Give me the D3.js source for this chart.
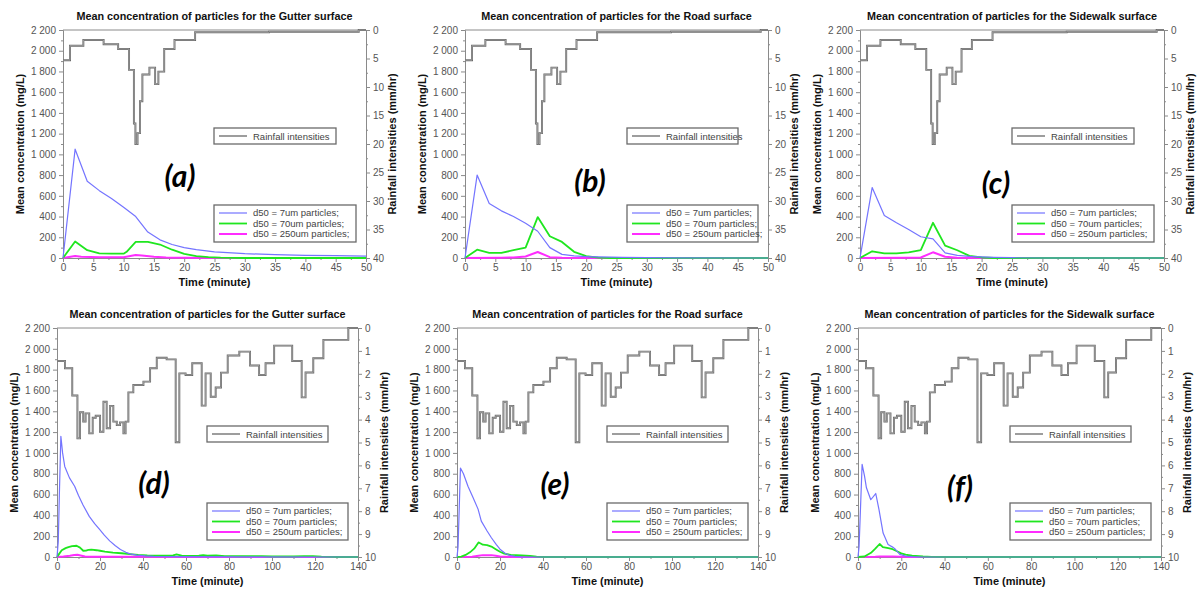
<!DOCTYPE html>
<html>
<head>
<meta charset="utf-8">
<script src="https://cdn.jsdelivr.net/npm/d3@7"></script>
<style>
  body { margin: 0; background: #fff; }
  svg { font-family: "Liberation Sans", Arial, sans-serif; }
</style>
</head>
<body>
<svg id="chart" width="1198" height="590"></svg>
<script>
// Beschriftungen
const surfaces = ["Gutter", "Road", "Sidewalk", "Gutter", "Road", "Sidewalk"];
const panelLetters = ["(a)", "(b)", "(c)", "(d)", "(e)", "(f)"];
const seriesLabels = ["d50 = 7um particles;", "d50 = 70um particles;", "d50 = 250um particles;"];
const rainLabel = "Rainfall intensities";

// Ticks
const concTicks = [0, 200, 400, 600, 800, 1000, 1200, 1400, 1600, 1800, 2000, 2200];
const timeTicksTop = [0, 5, 10, 15, 20, 25, 30, 35, 40, 45, 50];
const timeTicksBottom = [0, 20, 40, 60, 80, 100, 120, 140];
const rainTicksTop = [0, 5, 10, 15, 20, 25, 30, 35, 40];
const rainTicksBottom = [0, 1, 2, 3, 4, 5, 6, 7, 8, 9, 10];

// Regen (Startzeit, Intensität mm/hr) - Stufen
const rainTop = [[0,5.3],[1.16,2.75],[3.36,1.75],[6.7,2.5],[9.1,3.33],[10.9,7.0],[11.7,16.4],[11.95,20],[12.3,18.1],[12.7,12.5],[13.1,7.8],[14.26,6.6],[15.2,9.5],[15.74,7.3],[16.7,3.33],[18.4,1.75],[21.8,0.4],[34,0.3],[48.8,0],[50,0]];
const rainBottom = [[0,1.44],[3.7,1.76],[7.1,2.95],[9.5,4.82],[10.7,3.68],[12.2,4.09],[13.3,3.73],[15.0,4.6],[16.6,3.92],[18.0,3.83],[20.0,4.53],[21.6,3.22],[23.1,4.38],[24.7,3.4],[26.2,4.09],[27.8,4.24],[29.3,4.12],[30.9,4.6],[31.9,4.09],[33.2,2.81],[35.5,2.49],[40.2,2.34],[43.3,1.76],[46.4,1.3],[51.0,1.37],[55.2,4.99],[56.9,1.98],[59.8,2.05],[62.9,1.54],[67.3,3.39],[69.1,1.98],[71.5,3.0],[73.8,2.6],[76.3,1.95],[79.4,1.2],[84.8,1.03],[89.8,1.64],[94,2.05],[97,1.54],[101,0.77],[109.4,1.44],[113.8,3.03],[115.6,1.94],[119.2,1.32],[123.9,0.52],[135.5,0],[140,0]];

// Konzentrationen (Zeit, mg/L)
const a7 = [[0,0],[2,1050],[4,740],[6,650],[8,575],[10,490],[12,400],[14,250],[16,175],[18,130],[20,100],[22,80],[25,60],[30,42],[35,32],[40,26],[45,22],[50,18]];
const a70 = [[0,0],[2,160],[4,75],[6,45],[8,42],[10,42],[10.5,60],[12,155],[14,155],[16,130],[18,80],[20,40],[22,18],[24,8],[26,3],[30,0],[50,0]];
const a250 = [[0,0],[2,20],[3,12],[6,8],[10,8],[12,28],[13,25],[15,12],[17,5],[20,2],[25,0],[50,0]];

const b7 = [[0,0],[2,800],[4,525],[6,455],[8,400],[10,335],[12,258],[14,100],[16,35],[18,20],[20,14],[22,10],[26,6],[30,4],[35,2],[50,0]];
const b70 = [[0,0],[2,80],[4,50],[6,50],[8,75],[10,100],[12,395],[14,210],[16,155],[18,60],[20,18],[22,3],[24,0],[50,0]];
const b250 = [[0,0],[6,2],[8,5],[10,15],[12,58],[14,8],[16,2],[20,0],[50,0]];

const c7 = [[0,0],[2,680],[4,410],[6,340],[8,275],[10,205],[12,185],[14,50],[16,25],[18,15],[20,10],[22,6],[25,3],[30,0],[50,0]];
const c70 = [[0,0],[2,65],[4,45],[6,45],[8,55],[10,75],[12,340],[14,120],[16,75],[18,20],[20,5],[22,0],[50,0]];
const c250 = [[0,0],[8,2],[10,5],[12,55],[14,12],[16,3],[20,0],[50,0]];

const d7 = [[0,0],[0.6,150],[1.1,600],[1.8,1160],[2.6,1000],[3.6,870],[5.8,760],[8.2,680],[10,590],[12.1,500],[15,390],[17.5,320],[19.8,265],[22,210],[24.5,155],[27,110],[29.5,72],[32,45],[34,30],[37,18],[41,10],[45,6],[55,3],[140,0]];
const d70 = [[0,0],[1,30],[2.2,65],[4,85],[5.3,95],[7,105],[9.1,108],[10.7,90],[12.2,60],[13.5,62],[14.6,68],[16,70],[18.4,65],[20,60],[22.3,52],[26,42],[30,36],[34,28],[37.8,20],[42,15],[45.6,13],[50,12],[54,15],[55.6,25],[58,13],[62,10],[66,12],[68,18],[70,12],[74,16],[78,9],[85,7],[95,9],[100,5],[110,5],[115,9],[119,8],[123,3],[130,0],[140,0]];
const d250 = [[0,0],[3,5],[6,12],[8,20],[9.5,22],[11,15],[13,5],[16,3],[20,2],[40,2],[140,0]];

const e7 = [[0,0],[0.5,100],[1.6,855],[3,800],[5.1,680],[7.5,570],[9.8,460],[11.3,345],[14,250],[16,185],[18.3,118],[20,75],[22.2,38],[24.5,15],[27,6],[30,2],[40,0],[140,0]];
const e70 = [[0,0],[2,3],[4,20],[6,45],[8,80],[10,140],[11,130],[12,118],[14,115],[16,100],[18,75],[20,50],[22,32],[25,20],[30,15],[34,10],[37,3],[40,0],[140,0]];
const e250 = [[0,0],[7,3],[10,12],[12,18],[16,18],[18,12],[20,5],[23,2],[26,0],[140,0]];

const f7 = [[0,0],[0.5,100],[1.9,890],[3,780],[3.9,665],[5.9,550],[8.2,610],[9.7,455],[11.6,230],[13.9,120],[16,95],[17,80],[19.3,25],[22,8],[25,3],[30,0],[140,0]];
const f70 = [[0,0],[3,5],[6,40],[8,80],[10,125],[11.5,95],[14,85],[16,75],[18,55],[20,35],[22,22],[25,12],[30,5],[34,2],[40,0],[140,0]];
const f250 = [[0,0],[8,3],[10,6],[16,6],[20,2],[24,0],[140,0]];

// Farben
const seriesColors = ["#7474ff", "#1fe61f", "#ff2cff"];
const seriesWidths = [1.2, 1.8, 2];

// Panels (Layout)
const panels = [
  { series: [a7, a70, a250], rain: rainTop, tmax: 50, rmax: 40, tT: timeTicksTop, rT: rainTicksTop, tMinor: 2.5, rMinor: 2.5,
    left: 63, right: 366, top: 30, bottom: 258, rainW: 122, partW: 142, letter: [180, 187] },
  { series: [b7, b70, b250], rain: rainTop, tmax: 50, rmax: 40, tT: timeTicksTop, rT: rainTicksTop, tMinor: 2.5, rMinor: 2.5,
    left: 465, right: 768, top: 30, bottom: 258, rainW: 111, partW: 131, letter: [590, 192] },
  { series: [c7, c70, c250], rain: rainTop, tmax: 50, rmax: 40, tT: timeTicksTop, rT: rainTicksTop, tMinor: 2.5, rMinor: 2.5,
    left: 860, right: 1164, top: 30, bottom: 258, rainW: 122, partW: 142, letter: [996, 194] },
  { series: [d7, d70, d250], rain: rainBottom, tmax: 140, rmax: 10, tT: timeTicksBottom, rT: rainTicksBottom, tMinor: 10, rMinor: 0.5,
    left: 57, right: 358, top: 328, bottom: 557, rainW: 121, partW: 141, letter: [154, 494] },
  { series: [e7, e70, e250], rain: rainBottom, tmax: 140, rmax: 10, tT: timeTicksBottom, rT: rainTicksBottom, tMinor: 10, rMinor: 0.5,
    left: 457, right: 758, top: 328, bottom: 557, rainW: 121, partW: 141, letter: [555, 495] },
  { series: [f7, f70, f250], rain: rainBottom, tmax: 140, rmax: 10, tT: timeTicksBottom, rT: rainTicksBottom, tMinor: 10, rMinor: 0.5,
    left: 858, right: 1161, top: 328, bottom: 557, rainW: 121, partW: 141, letter: [960, 498] }
];

const fmt = d3.formatLocale({ decimal: ".", thousands: "\u00a0", grouping: [3], currency: ["", ""] }).format(",d");
const svg = d3.select("#chart");

function minorTicks(step, max) {
  const out = [];
  for (let v = step; v < max; v += step * 2) out.push(v);
  return out;
}

function styleAxis(g) {
  g.select(".domain").attr("stroke", "#8a8a8a");
  g.selectAll(".tick line").attr("stroke", "#8a8a8a");
  g.selectAll(".tick text").attr("fill", "#555").style("font-size", "10px").style("font-family", "Liberation Sans, Arial, sans-serif");
}

function drawPanel(p, i) {
  const g = svg.append("g");
  const x = d3.scaleLinear().domain([0, p.tmax]).range([p.left, p.right]);
  const y = d3.scaleLinear().domain([0, 2200]).range([p.bottom, p.top]);
  const yR = d3.scaleLinear().domain([0, p.rmax]).range([p.top, p.bottom]);

  // Rahmen oben
  g.append("line").attr("x1", p.left).attr("x2", p.right).attr("y1", p.top).attr("y2", p.top).attr("stroke", "#8a8a8a");

  // Achsen
  const gl = g.append("g").attr("transform", `translate(${p.left},0)`)
    .call(d3.axisLeft(y).tickValues(concTicks).tickSize(4).tickPadding(3).tickFormat(fmt));
  styleAxis(gl);
  g.append("g").attr("transform", `translate(${p.left},0)`)
    .call(d3.axisLeft(y).tickValues(minorTicks(100, 2200)).tickSize(2).tickFormat(""))
    .call(s => { s.select(".domain").remove(); s.selectAll("line").attr("stroke", "#8a8a8a"); });

  const gr = g.append("g").attr("transform", `translate(${p.right},0)`)
    .call(d3.axisRight(yR).tickValues(p.rT).tickSize(4).tickPadding(3));
  styleAxis(gr);
  g.append("g").attr("transform", `translate(${p.right},0)`)
    .call(d3.axisRight(yR).tickValues(minorTicks(p.rMinor, p.rmax)).tickSize(2).tickFormat(""))
    .call(s => { s.select(".domain").remove(); s.selectAll("line").attr("stroke", "#8a8a8a"); });

  const gb = g.append("g").attr("transform", `translate(0,${p.bottom})`)
    .call(d3.axisBottom(x).tickValues(p.tT).tickSize(4).tickPadding(2));
  styleAxis(gb);
  g.append("g").attr("transform", `translate(0,${p.bottom})`)
    .call(d3.axisBottom(x).tickValues(minorTicks(p.tMinor, p.tmax)).tickSize(2).tickFormat(""))
    .call(s => { s.select(".domain").remove(); s.selectAll("line").attr("stroke", "#8a8a8a"); });

  // Regenlinie (Stufen)
  const rainLine = d3.line().x(d => x(d[0])).y(d => yR(d[1])).curve(d3.curveStepAfter);
  g.append("path").datum(p.rain).attr("d", rainLine).attr("fill", "none").attr("stroke", "#666").attr("stroke-width", 1.9);
  g.append("path").datum(p.rain).attr("d", rainLine).attr("fill", "none").attr("stroke", "#cfcfcf").attr("stroke-width", 0.5);

  // Konzentrationen
  const concLine = d3.line().x(d => x(d[0])).y(d => y(d[1]));
  [2, 1, 0].forEach(k => {
    g.append("path").datum(p.series[k]).attr("d", concLine)
      .attr("fill", "none").attr("stroke", seriesColors[k]).attr("stroke-width", seriesWidths[k])
      .attr("stroke-linejoin", "round");
  });

  // Titel
  g.append("text").attr("x", (p.left + p.right) / 2).attr("y", p.top - 10)
    .attr("text-anchor", "middle").style("font-size", "10.8px").style("font-weight", "bold").attr("fill", "#111")
    .text(`Mean concentration of particles for the ${surfaces[i]} surface`);

  // Achsentitel
  g.append("text").attr("x", (p.left + p.right) / 2).attr("y", p.bottom + 28)
    .attr("text-anchor", "middle").style("font-size", "11px").style("font-weight", "bold").attr("fill", "#111")
    .text("Time (minute)");
  const cy = (p.top + p.bottom) / 2;
  g.append("text").attr("transform", `translate(${p.left - 39},${cy}) rotate(-90)`)
    .attr("text-anchor", "middle").style("font-size", "11px").style("font-weight", "bold").attr("fill", "#111")
    .text("Mean concentration (mg/L)");
  g.append("text").attr("transform", `translate(${p.right + 30},${cy}) rotate(-90)`)
    .attr("text-anchor", "middle").style("font-size", "11px").style("font-weight", "bold").attr("fill", "#111")
    .text("Rainfall intensities (mm/hr)");

  // Legende Regen
  const rx = p.right - 30 - p.rainW, ry = p.top + 98;
  g.append("rect").attr("x", rx).attr("y", ry).attr("width", p.rainW).attr("height", 16)
    .attr("fill", "#fff").attr("stroke", "#6a6a6a").attr("stroke-width", 1.3);
  g.append("line").attr("x1", rx + 5).attr("x2", rx + 33).attr("y1", ry + 8).attr("y2", ry + 8)
    .attr("stroke", "#5c5c5c").attr("stroke-width", 1.2);
  g.append("text").attr("x", rx + 39).attr("y", ry + 11.5).style("font-size", "9.5px").attr("fill", "#444").text(rainLabel);

  // Legende Partikel
  const lx = p.right - 10 - p.partW, ly = p.top + 175;
  g.append("rect").attr("x", lx).attr("y", ly).attr("width", p.partW).attr("height", 37)
    .attr("fill", "#fff").attr("stroke", "#6a6a6a").attr("stroke-width", 1.3);
  seriesLabels.forEach((lab, k) => {
    const yy = ly + 8 + k * 10.5;
    g.append("line").attr("x1", lx + 5).attr("x2", lx + 33).attr("y1", yy).attr("y2", yy)
      .attr("stroke", seriesColors[k]).attr("stroke-width", seriesWidths[k]);
    g.append("text").attr("x", lx + 39).attr("y", yy + 3.3).style("font-size", "9.5px").attr("fill", "#444").text(lab);
  });

  // Buchstabe
  g.append("text").attr("x", p.letter[0]).attr("y", p.letter[1]).attr("text-anchor", "middle")
    .style("font-family", "Lato, 'Open Sans', sans-serif").style("font-size", "30px")
    .style("font-weight", "bold").style("font-style", "italic").attr("fill", "#000")
    .text(panelLetters[i]);
}

panels.forEach(drawPanel);
</script>
</body>
</html>
